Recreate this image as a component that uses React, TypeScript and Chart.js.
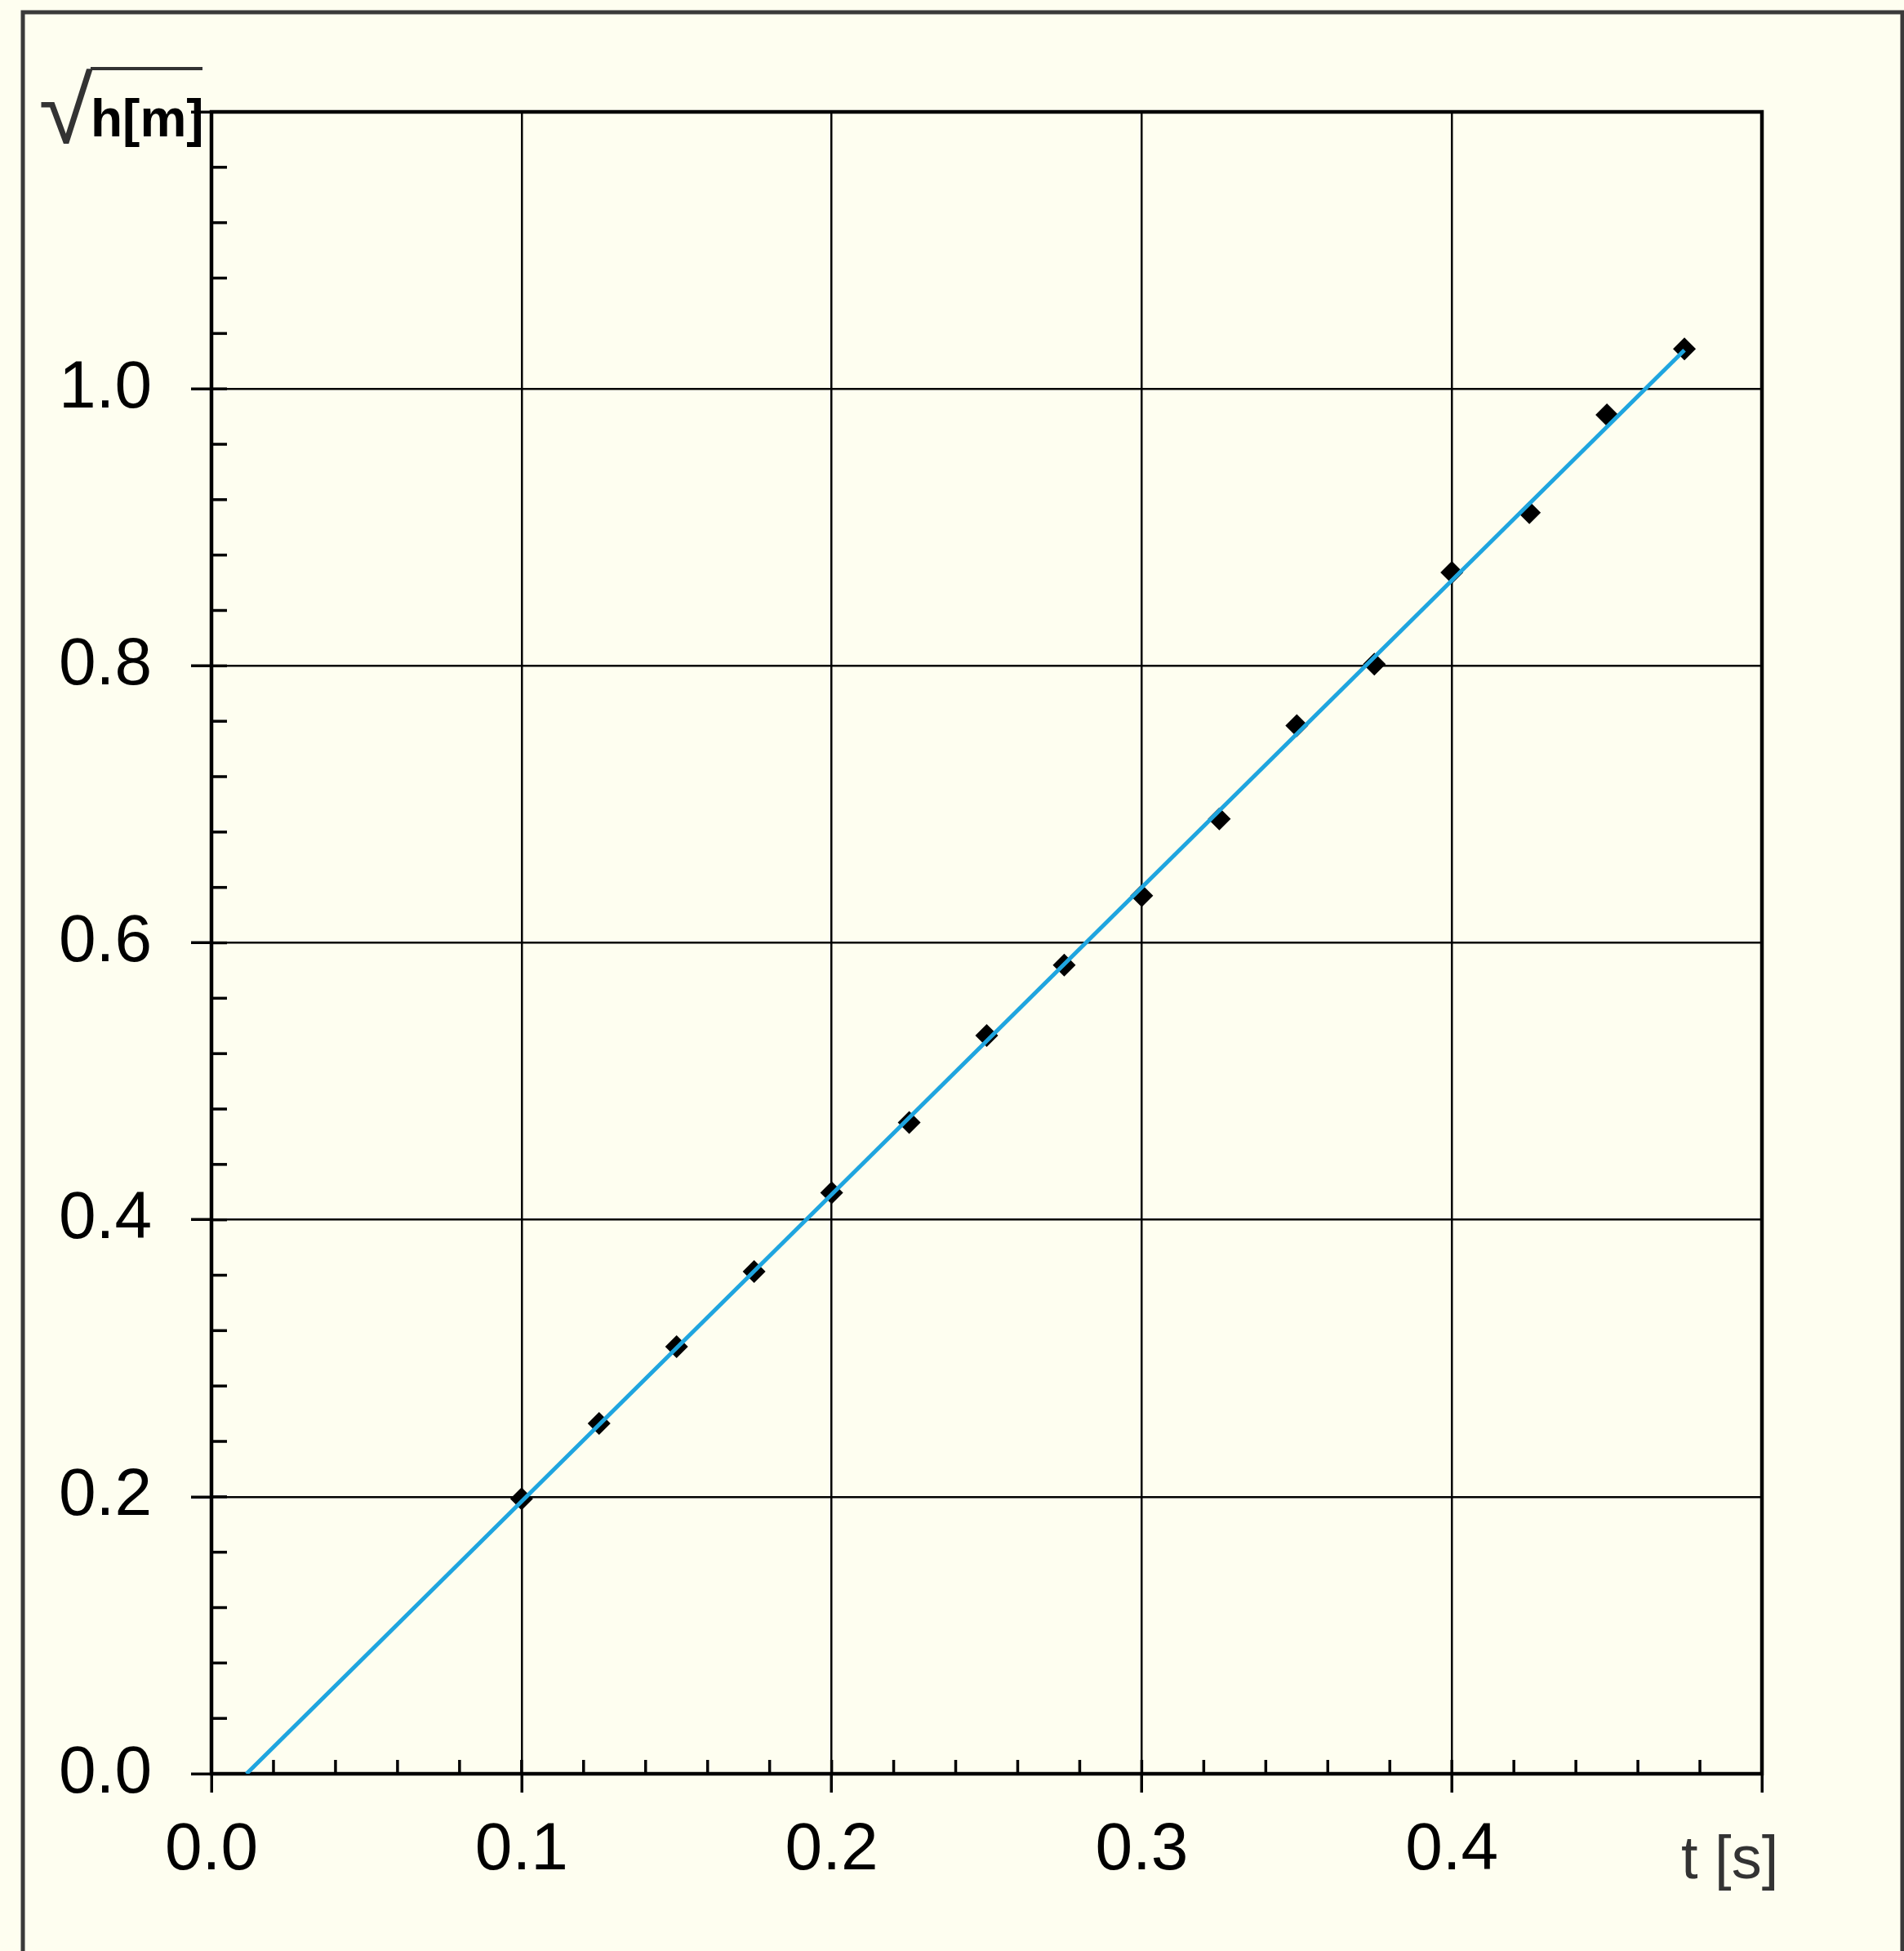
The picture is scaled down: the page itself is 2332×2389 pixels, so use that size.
import React, { useEffect, useRef } from 'react';
import { Chart, registerables } from 'chart.js';

Chart.register(...registerables);

// ---- data ----
const timeValues = [0.1, 0.125, 0.15, 0.175, 0.2, 0.225, 0.25, 0.275, 0.3, 0.325, 0.35, 0.375, 0.4, 0.425, 0.45, 0.475];
const sqrtHeightValues = [0.1986, 0.253, 0.3084, 0.3626, 0.4196, 0.4702, 0.5331, 0.584, 0.6341, 0.6895, 0.7568, 0.8012, 0.8674, 0.9106, 0.9813, 1.0289];
const fitTimes = [0.0113, 0.475];
const fitValues = [0, 1.028];
const xTickLabels = ['0.0', '0.1', '0.2', '0.3', '0.4', ''];
const yTickLabels = ['0.0', '0.2', '0.4', '0.6', '0.8', '1.0', ''];
const xAxisTitle = 't [s]';
const yAxisRadical = '√';
const yAxisTitle = 'h[m]';

const W = 2332;
const H = 2389;
const FONT = '"Liberation Sans", Arial, sans-serif';
const BG = '#FEFEF0';

const decorPlugin = {
  id: 'decor',
  beforeDraw(chart: any) {
    const ctx = chart.ctx;
    ctx.save();
    ctx.fillStyle = BG;
    ctx.fillRect(0, 0, chart.width, chart.height);
    // outer frame
    ctx.strokeStyle = '#3a3a3a';
    ctx.lineWidth = 5;
    ctx.strokeRect(28, 15, 2302, 2500);
    ctx.restore();
  },
  beforeDatasetsDraw(chart: any) {
    const ctx = chart.ctx;
    const xs = chart.scales.x;
    const ys = chart.scales.y;
    const a = chart.chartArea;
    ctx.save();
    ctx.strokeStyle = '#000';
    ctx.lineWidth = 3.5;
    // minor ticks on x (inside, upward)
    for (let i = 1; i < 25; i++) {
      const v = i * 0.02;
      const px = xs.getPixelForValue(v);
      ctx.beginPath();
      ctx.moveTo(px, a.bottom);
      ctx.lineTo(px, a.bottom - 17);
      ctx.stroke();
    }
    // minor ticks on y (inside, rightward)
    for (let i = 1; i < 30; i++) {
      const v = i * 0.04;
      const py = ys.getPixelForValue(v);
      ctx.beginPath();
      ctx.moveTo(a.left, py);
      ctx.lineTo(a.left + 19, py);
      ctx.stroke();
    }
    // plot frame
    ctx.lineWidth = 4.5;
    ctx.strokeRect(a.left, a.top, a.right - a.left, a.bottom - a.top);
    ctx.restore();
  },
  afterDraw(chart: any) {
    const ctx = chart.ctx;
    ctx.save();
    // x axis title
    ctx.fillStyle = '#333';
    ctx.font = `74px ${FONT}`;
    ctx.textAlign = 'left';
    ctx.textBaseline = 'alphabetic';
    const mt = ctx.measureText(xAxisTitle);
    ctx.fillText(xAxisTitle, 2060 + mt.actualBoundingBoxLeft, 2300);

    // y axis title: radical scaled into its box
    ctx.font = `100px ${FONT}`;
    const mr = ctx.measureText(yAxisRadical);
    const inkW = mr.actualBoundingBoxLeft + mr.actualBoundingBoxRight;
    const inkH = mr.actualBoundingBoxAscent + mr.actualBoundingBoxDescent;
    ctx.save();
    ctx.translate(50, 83);
    ctx.scale(64 / inkW, 93 / inkH);
    ctx.fillStyle = '#333';
    ctx.fillText(yAxisRadical, mr.actualBoundingBoxLeft, mr.actualBoundingBoxAscent);
    ctx.restore();
    // overline
    ctx.strokeStyle = '#333';
    ctx.lineWidth = 4;
    ctx.beginPath();
    ctx.moveTo(111, 84);
    ctx.lineTo(248, 84);
    ctx.stroke();
    // h[m]
    ctx.fillStyle = '#000';
    ctx.font = `bold 64px ${FONT}`;
    const mh = ctx.measureText(yAxisTitle);
    ctx.fillText(yAxisTitle, 115 + mh.actualBoundingBoxLeft, 167);
    ctx.restore();
  },
};

export default function App() {
  const ref = useRef<HTMLCanvasElement>(null);
  useEffect(() => {
    const points = timeValues.map((t, i) => ({ x: t, y: sqrtHeightValues[i] }));
    const fit = fitTimes.map((t, i) => ({ x: t, y: fitValues[i] }));
    const chart = new Chart(ref.current as HTMLCanvasElement, {
      type: 'scatter',
      data: {
        datasets: [
          {
            label: 'fit',
            data: fit,
            showLine: true,
            borderColor: '#1FA5DF',
            borderWidth: 5,
            pointRadius: 0,
            order: 1,
          } as any,
          {
            label: 'measured',
            data: points,
            pointStyle: 'rectRot',
            pointRadius: 14,
            backgroundColor: '#000',
            borderColor: '#000',
            borderWidth: 0,
            order: 2,
          } as any,
        ],
      },
      options: {
        responsive: false,
        animation: false,
        devicePixelRatio: 1,
        layout: { padding: { top: 137, right: 174, left: 0, bottom: 0 } },
        plugins: { legend: { display: false }, tooltip: { enabled: false } },
        scales: {
          x: {
            type: 'linear',
            min: 0,
            max: 0.5,
            afterFit: (s: any) => { s.height = 217; },
            ticks: {
              stepSize: 0.1,
              padding: 22,
              color: '#000',
              font: { family: FONT, size: 82 },
              maxRotation: 0,
              autoSkip: false,
              callback: (v: any, i: number) => xTickLabels[i] ?? '',
            },
            grid: { color: '#000', lineWidth: 2.5, tickLength: 23, tickWidth: 3.5, tickColor: '#000' },
            border: { display: false },
          },
          y: {
            type: 'linear',
            min: 0,
            max: 1.2,
            afterFit: (s: any) => { s.width = 259; },
            ticks: {
              stepSize: 0.2,
              padding: 48,
              color: '#000',
              font: { family: FONT, size: 82 },
              autoSkip: false,
              callback: (v: any, i: number) => yTickLabels[i] ?? '',
            },
            grid: { color: '#000', lineWidth: 2.5, tickLength: 25, tickWidth: 3.5, tickColor: '#000' },
            border: { display: false },
          },
        },
      },
      plugins: [decorPlugin],
    } as any);
    return () => chart.destroy();
  }, []);
  return (
    <div style={{ position: 'absolute', left: 0, top: 0, width: W, height: H, background: BG }}>
      <canvas ref={ref} width={W} height={H} style={{ display: 'block', width: W, height: H }} />
    </div>
  );
}
